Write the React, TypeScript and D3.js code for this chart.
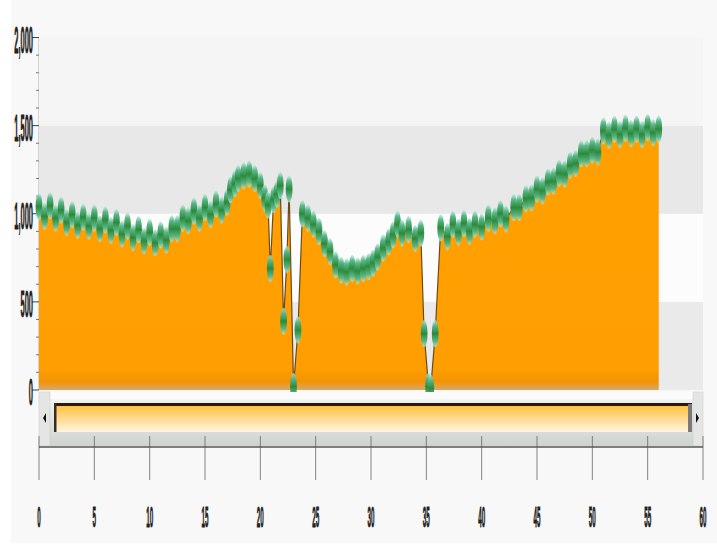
import React from "react";
import * as d3 from "d3";

const xValues = [
  0, 0.5, 1, 1.5, 2, 2.5, 3, 3.5, 4, 4.5, 5, 5.5, 6, 6.5, 7, 7.5, 8, 8.5, 9, 9.5,
  10, 10.5, 11, 11.5, 12, 12.5, 13, 13.5, 14, 14.5, 15, 15.5, 16, 16.5, 17, 17.3, 17.7,
  18, 18.5, 19, 19.5, 20, 20.4, 20.7, 20.9, 21.2, 21.5, 21.8, 22.1, 22.4, 22.6, 23, 23.4,
  23.8, 24.3, 24.8, 25.3, 25.8, 26.3, 26.8, 27.3, 27.8, 28.3, 28.8, 29.3, 29.8, 30.2,
  30.6, 31.1, 31.6, 32, 32.4, 32.8, 33.4, 34, 34.5, 34.8, 35.2, 35.4, 35.8, 36.3, 36.9,
  37.4, 37.9, 38.4, 38.9, 39.4, 40, 40.6, 41.2, 41.7, 42.2, 42.9, 43.4, 44, 44.5, 45,
  45.5, 46, 46.5, 47, 47.5, 48, 48.5, 49, 49.5, 50, 50.5, 51, 51.5, 52, 52.5, 53, 53.5,
  54, 54.5, 55, 55.5, 56,
];
const yValues = [
  1040, 985, 1045, 975, 1020, 950, 995, 935, 980, 930, 975, 915, 965, 905, 950, 885, 930, 865, 910, 845,
  895, 835, 880, 850, 915, 915, 975, 960, 1015, 975, 1035, 995, 1055, 1020, 1065, 1135, 1170,
  1200, 1215, 1225, 1200, 1160, 1090, 1050, 690, 1080, 1110, 1160, 390, 740, 1140, 20, 340,
  1000, 975, 940, 900, 830, 785, 710, 680, 670, 690, 675, 690, 700, 720,
  755, 805, 840, 880, 940, 890, 910, 860, 890, 320, 20, 10, 320, 920, 870,
  940, 895, 945, 900, 940, 925, 975, 960, 1000, 970, 1035, 1035, 1085, 1090, 1140,
  1130, 1180, 1185, 1230, 1225, 1275, 1285, 1340, 1340, 1360, 1350, 1470, 1445, 1480, 1450, 1485, 1455,
  1480, 1450, 1490, 1460, 1480,
];
const yTicks = [0, 500, 1000, 1500, 2000];
const yTickLabels = ["0", "500", "1,000", "1,500", "2,000"];
const xTicks = [0, 5, 10, 15, 20, 25, 30, 35, 40, 45, 50, 55, 60];
const bandColors = ["#eaeaea", "#fcfcfc", "#e8e8e8", "#f5f5f5"];

const W = 717;
const H = 544;

export default function App() {
  const x = d3.scaleLinear().domain([0, 60]).range([39, 703]);
  const y = d3.scaleLinear().domain([0, 2000]).range([390, 37.5]);
  const data = xValues.map((v, i) => ({ x: v, y: yValues[i] }));
  const area = d3
    .area<{ x: number; y: number }>()
    .x((d) => x(d.x))
    .y0(y(0))
    .y1((d) => y(d.y));
  const line = d3
    .line<{ x: number; y: number }>()
    .x((d) => x(d.x))
    .y((d) => y(d.y));
  const minor = d3.range(0, 2001, 100);
  const scrollTop = 392;
  const scrollBottom = 446;
  const fontFam = "'Liberation Sans', Arial, sans-serif";

  return (
    <svg
      width={W}
      height={H}
      style={{ position: "absolute", left: 0, top: 0, display: "block" }}
    >
      <defs>
        <linearGradient id="orangeFill" x1="0" x2="0" y1={y(2000)} y2={y(0)} gradientUnits="userSpaceOnUse">
          <stop offset="0" stopColor="#ffa000" />
          <stop offset="0.94" stopColor="#ff9e00" />
          <stop offset="0.975" stopColor="#f39300" />
          <stop offset="1" stopColor="#d8a868" />
        </linearGradient>
        <linearGradient id="marker" x1="0" x2="0" y1="0" y2="1">
          <stop offset="0" stopColor="#b4eadc" stopOpacity="0.7" />
          <stop offset="0.2" stopColor="#5cb88a" />
          <stop offset="0.5" stopColor="#2c8a3c" />
          <stop offset="0.8" stopColor="#5cb88a" />
          <stop offset="1" stopColor="#b4eadc" stopOpacity="0.7" />
        </linearGradient>
        <linearGradient id="thumb" x1="0" x2="0" y1="0" y2="1">
          <stop offset="0" stopColor="#ffbd35" />
          <stop offset="0.5" stopColor="#ffd98c" />
          <stop offset="1" stopColor="#fff5e0" />
        </linearGradient>
        <linearGradient id="frame" x1="0" x2="0" y1="0" y2="1">
          <stop offset="0" stopColor="#ffffff" />
          <stop offset="0.2" stopColor="#eef0ee" />
          <stop offset="1" stopColor="#cfd3cf" />
        </linearGradient>
      </defs>

      <rect x={0} y={0} width={W} height={H} fill="#ffffff" />
      <rect x={11} y={0} width={W - 11} height={543} fill="#f8f8f8" />

      {/* plot bands */}
      {yTicks.slice(0, -1).map((t, i) => (
        <rect
          key={"band" + t}
          x={x(0)}
          y={y(yTicks[i + 1])}
          width={x(60) - x(0)}
          height={y(t) - y(yTicks[i + 1])}
          fill={bandColors[i]}
        />
      ))}

      {/* y axis */}
      <line x1={38.5} x2={38.5} y1={y(2000)} y2={y(0)} stroke="#d4d4d4" strokeWidth={1} />
      {minor.map((t) => (
        <line
          key={"m" + t}
          x1={t % 500 === 0 ? 32 : 36}
          x2={39}
          y1={y(t)}
          y2={y(t)}
          stroke={t % 500 === 0 ? "#444" : "#777"}
          strokeWidth={1}
        />
      ))}
      {yTicks.map((t, i) => (
        <text
          key={"yl" + t}
          transform={`translate(33,${y(t) + 3}) scale(0.34,1.65)`}
          textAnchor="end"
          dominantBaseline="central"
          fontSize={22}
          fontWeight="bold"
          fontFamily={fontFam}
          fill="#222"
          stroke="#222"
          strokeWidth={0.6}
          style={{ vectorEffect: "non-scaling-stroke" } as React.CSSProperties}
        >
          {yTickLabels[i]}
        </text>
      ))}

      {/* series */}
      <path d={area(data) || ""} fill="url(#orangeFill)" />
      <path d={line(data) || ""} fill="none" stroke="#6b4a1a" strokeWidth={1.2} />
      {data.map((d, i) => (
        <ellipse key={"p" + i} cx={x(d.x)} cy={y(d.y)} rx={3.4} ry={13.5} fill="url(#marker)" />
      ))}

      {/* scrollbar */}
      <rect x={x(0)} y={scrollTop} width={x(60) - x(0)} height={scrollBottom - scrollTop} fill="url(#frame)" />
      <rect x={x(0)} y={scrollTop} width={x(60) - x(0)} height={7} fill="#fbfbfb" />
      <rect x={x(0)} y={scrollTop} width={11} height={scrollBottom - scrollTop} fill="#e4e6e4" stroke="#c8c8c8" strokeWidth={0.5} />
      <rect x={x(60) - 10} y={scrollTop} width={10} height={scrollBottom - scrollTop} fill="#e4e6e4" stroke="#c8c8c8" strokeWidth={0.5} />
      <path d={`M${x(0) + 4},418 L${x(0) + 7},413 L${x(0) + 7},423 Z`} fill="#111" />
      <path d={`M${x(60) - 4},418 L${x(60) - 7},413 L${x(60) - 7},423 Z`} fill="#111" />
      <rect x={54} y={404} width={638} height={28} fill="url(#thumb)" />
      <rect x={54} y={403} width={638} height={3} fill="#2a1a10" />
      <rect x={54} y={403} width={2.5} height={29} fill="#3a2a20" />
      <rect x={688} y={404} width={4} height={28} fill="#7a7a7a" />

      {/* x axis */}
      {xTicks.map((t) => (
        <line key={"xt" + t} x1={x(t)} x2={x(t)} y1={436} y2={480} stroke="#666" strokeWidth={0.8} />
      ))}
      <line x1={x(0)} x2={x(60)} y1={447} y2={447} stroke="#555" strokeWidth={1.5} />
      {xTicks.map((t) => (
        <text
          key={"xl" + t}
          transform={`translate(${x(t)},${517}) scale(0.33,1.55)`}
          textAnchor="middle"
          dominantBaseline="central"
          fontSize={19}
          fontWeight="bold"
          fontFamily={fontFam}
          fill="#222"
          stroke="#222"
          strokeWidth={0.6}
          style={{ vectorEffect: "non-scaling-stroke" } as React.CSSProperties}
        >
          {t}
        </text>
      ))}
    </svg>
  );
}
